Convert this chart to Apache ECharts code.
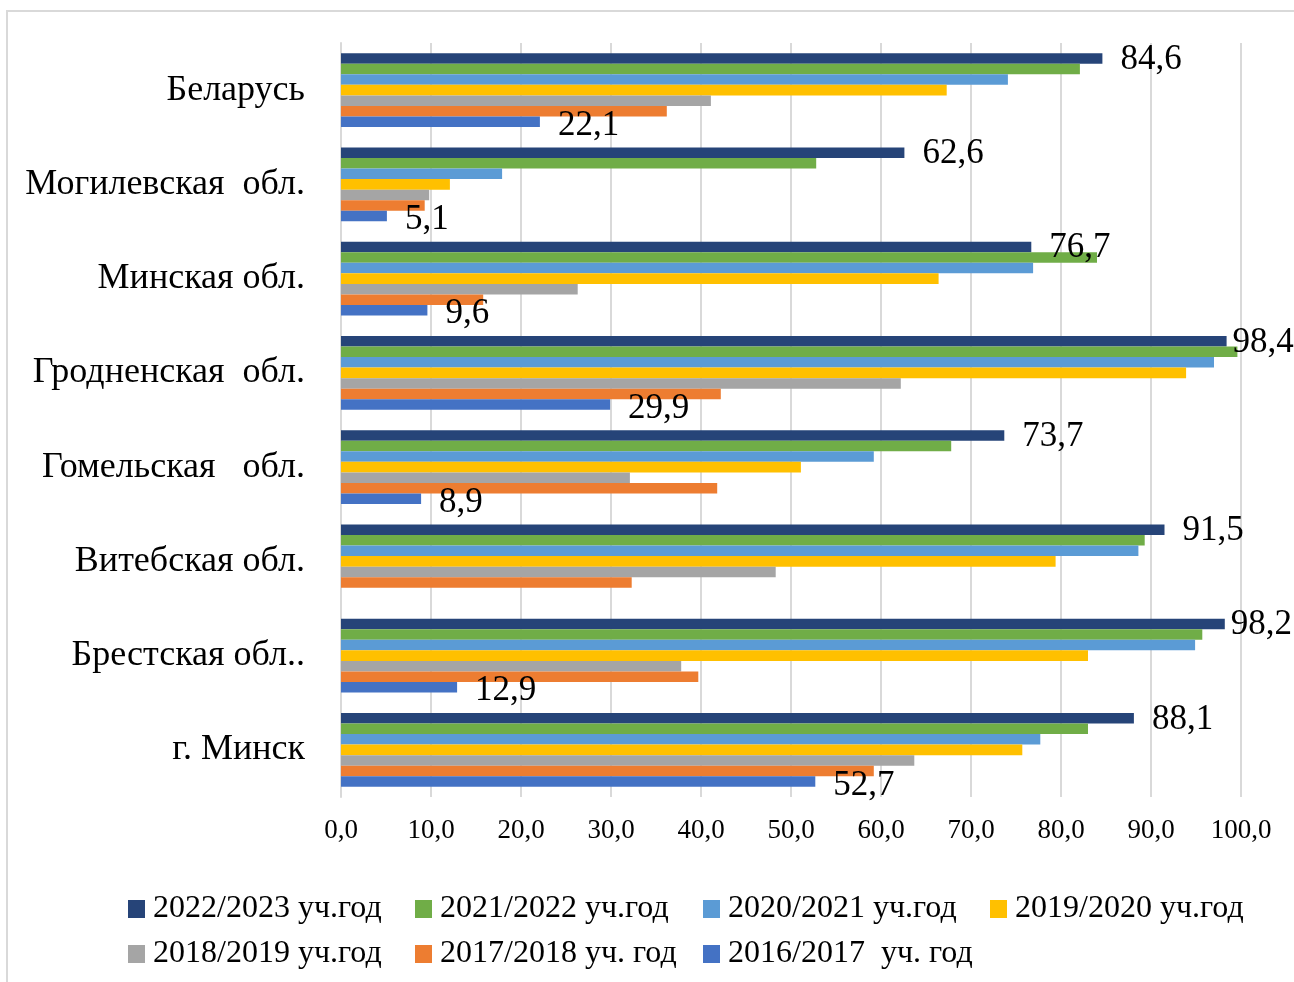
<!DOCTYPE html>
<html>
<head>
<meta charset="utf-8">
<script src="https://cdn.jsdelivr.net/npm/echarts@6/dist/echarts.min.js"></script>
<style>html,body{margin:0;padding:0;background:#fff}#c{width:1294px;height:982px}</style>
</head>
<body>
<div id="c"></div>
<script>
const categories = ['Беларусь','Могилевская  обл.','Минская обл.','Гродненская  обл.','Гомельская   обл.','Витебская обл.','Брестская обл..','г. Минск'];
const seriesNames = ['2022/2023 уч.год','2021/2022 уч.год','2020/2021 уч.год','2019/2020 уч.год','2018/2019 уч.год','2017/2018 уч. год','2016/2017  уч. год'];
const v2022_2023 = [84.6, 62.6, 76.7, 98.4, 73.7, 91.5, 98.2, 88.1];
const v2021_2022 = [82.1, 52.8, 84.0, 99.6, 67.8, 89.3, 95.7, 83.0];
const v2020_2021 = [74.1, 17.9, 76.9, 97.0, 59.2, 88.6, 94.9, 77.7];
const v2019_2020 = [67.3, 12.1, 66.4, 93.9, 51.1, 79.4, 83.0, 75.7];
const v2018_2019 = [41.1, 9.8, 26.3, 62.2, 32.1, 48.3, 37.8, 63.7];
const v2017_2018 = [36.2, 9.3, 15.8, 42.2, 41.8, 32.3, 39.7, 59.2];
const v2016_2017 = [22.1, 5.1, 9.6, 29.9, 8.9, null, 12.9, 52.7];
const xTicks = {min: 0, max: 100, interval: 10};

const values = [v2022_2023, v2021_2022, v2020_2021, v2019_2020, v2018_2019, v2017_2018, v2016_2017];
const colors = ['#264478','#70ad47','#5b9bd5','#ffc000','#a5a5a5','#ed7d31','#4472c4'];
const labeled = [true,false,false,false,false,false,true];
const labelOffsets = [[0,1],null,null,null,null,null,[0,4]];
const FONT = '"Liberation Serif","Times New Roman",serif';
const fmt = v => Number(v).toFixed(1).replace('.', ',');

const legendPos = [[128,893],[415,893],[703,893],[990,893],[128,938],[415,938],[703,938]];

const chart = echarts.init(document.getElementById('c'), null, {renderer:'canvas'});
chart.setOption({
  backgroundColor: '#fff',
  animation: false,
  color: colors,
  graphic: [{type:'rect', shape:{x:7, y:11, width:1320, height:1010}, style:{fill:'none', stroke:'#d9d9d9', lineWidth:2}, silent:true}],
  grid: {left: 341, right: 53, top: 43, bottom: 185, containLabel: false},
  legend: seriesNames.map((n, i) => ({
    data: [n], left: legendPos[i][0], top: legendPos[i][1], padding: 0,
    itemWidth: 17, itemHeight: 18, icon: 'rect', selectedMode: false,
    textStyle: {fontFamily: FONT, fontSize: 32, color: '#000', padding: [0,0,0,3]}
  })),
  xAxis: {
    type: 'value', min: xTicks.min, max: xTicks.max, interval: xTicks.interval,
    axisLine: {show: false}, axisTick: {show: false},
    splitLine: {show: true, lineStyle: {color: '#d9d9d9', width: 2}},
    axisLabel: {fontFamily: FONT, fontSize: 27, color: '#000', margin: 20, formatter: fmt}
  },
  yAxis: {
    type: 'category', data: categories, inverse: true,
    axisLine: {show: true, lineStyle: {color: '#d9d9d9', width: 2}},
    axisTick: {show: false},
    axisLabel: {fontFamily: FONT, fontSize: 36, color: '#000', margin: 36}
  },
  series: seriesNames.map((n, i) => ({
    name: n, type: 'bar',
    data: values[i].map(v => (labeled[i] && v != null && v >= 95) ? {value: v, label: {distance: 6}} : v),
    barGap: '0%', barCategoryGap: '22%',
    itemStyle: {color: colors[i]},
    label: labeled[i] ? {show: true, position: 'right', distance: 18, offset: labelOffsets[i], fontFamily: FONT, fontSize: 35, color: '#000', formatter: p => fmt(p.value)} : {show: false}
  }))
});
</script>
</body>
</html>
